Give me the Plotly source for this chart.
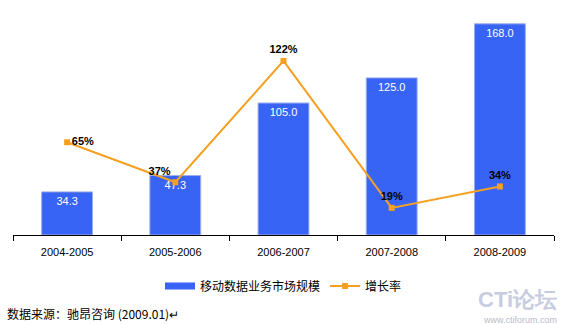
import plotly.graph_objects as go

categories = ["2004-2005", "2005-2006", "2006-2007", "2007-2008", "2008-2009"]
market_size = [34.3, 47.3, 105.0, 125.0, 168.0]
growth_rate = [65, 37, 122, 19, 34]
growth_labels = ["65%", "37%", "122%", "19%", "34%"]
growth_text_pos = ["middle right", "top left", "top center", "top center", "top center"]

bar_name = "移动数据业务市场规模"
line_name = "增长率"

BAR_COLOR = "#3864F6"
LINE_COLOR = "#F5A023"

fig = go.Figure()
fig.add_trace(go.Bar(
    x=categories, y=market_size, name=bar_name, showlegend=False,
    marker=dict(color=BAR_COLOR, line=dict(color="#9AAEEC", width=1)),
    width=0.47,
    text=[f"{v:.1f}" for v in market_size], textposition="inside",
    insidetextanchor="end",
    textfont=dict(color="white", size=11, family="Liberation Sans, Arial"),
    cliponaxis=False,
))
# legend entry for the bar series (wide swatch as in the reference)
fig.add_trace(go.Scatter(
    x=[None], y=[None], name=bar_name, mode="lines",
    line=dict(color=BAR_COLOR, width=7), showlegend=True,
))
fig.add_trace(go.Scatter(
    x=categories, y=growth_rate, name=line_name, yaxis="y2",
    mode="lines+markers+text",
    line=dict(color=LINE_COLOR, width=2),
    marker=dict(symbol="square", size=6, color=LINE_COLOR),
    text=growth_labels, textposition=growth_text_pos,
    textfont=dict(color="black", size=11, family="Liberation Sans, Arial"),
    texttemplate="<b>%{text}</b>",
    cliponaxis=False,
))

fig.update_layout(
    width=561, height=324,
    margin=dict(l=13, r=7, t=10, b=89),
    paper_bgcolor="white", plot_bgcolor="white",
    showlegend=True,
    legend=dict(orientation="h", x=0.5, xanchor="center", y=-0.227, yanchor="middle",
                font=dict(size=12, family="Noto Sans CJK SC", color="black"),
                itemwidth=30, traceorder="normal"),
    xaxis=dict(type="category", showline=True, linecolor="black", linewidth=1,
               ticks="outside", tickson="boundaries", ticklen=5, tickcolor="black",
               ticklabelstandoff=7,
               tickfont=dict(size=11, family="Liberation Sans, Arial", color="black"),
               showgrid=False),
    yaxis=dict(range=[0, 179], visible=False, showgrid=False),
    yaxis2=dict(range=[0, 157.7], overlaying="y", visible=False, showgrid=False),
    font=dict(family="Liberation Sans, Arial"),
    bargap=0.53,
)

fig.add_annotation(text="数据来源：驰昂咨询 (2009.01)↵", xref="paper", yref="paper",
                   x=-0.015, y=-0.351, xanchor="left", yanchor="middle", showarrow=False,
                   font=dict(size=12, family="Noto Sans CJK SC", color="black"))
fig.add_annotation(text="<b>CTi论坛</b>", xref="paper", yref="paper",
                   x=1.01, y=-0.285, xanchor="right", yanchor="middle", showarrow=False,
                   font=dict(size=22, family="Liberation Sans, Arial", color="#C8CCE0"))
fig.add_annotation(text="www.ctiforum.com", xref="paper", yref="paper",
                   x=1.01, y=-0.378, xanchor="right", yanchor="middle", showarrow=False,
                   font=dict(size=9, family="Liberation Sans, Arial", color="#B8BCC8"))

fig.write_html("out.html")
